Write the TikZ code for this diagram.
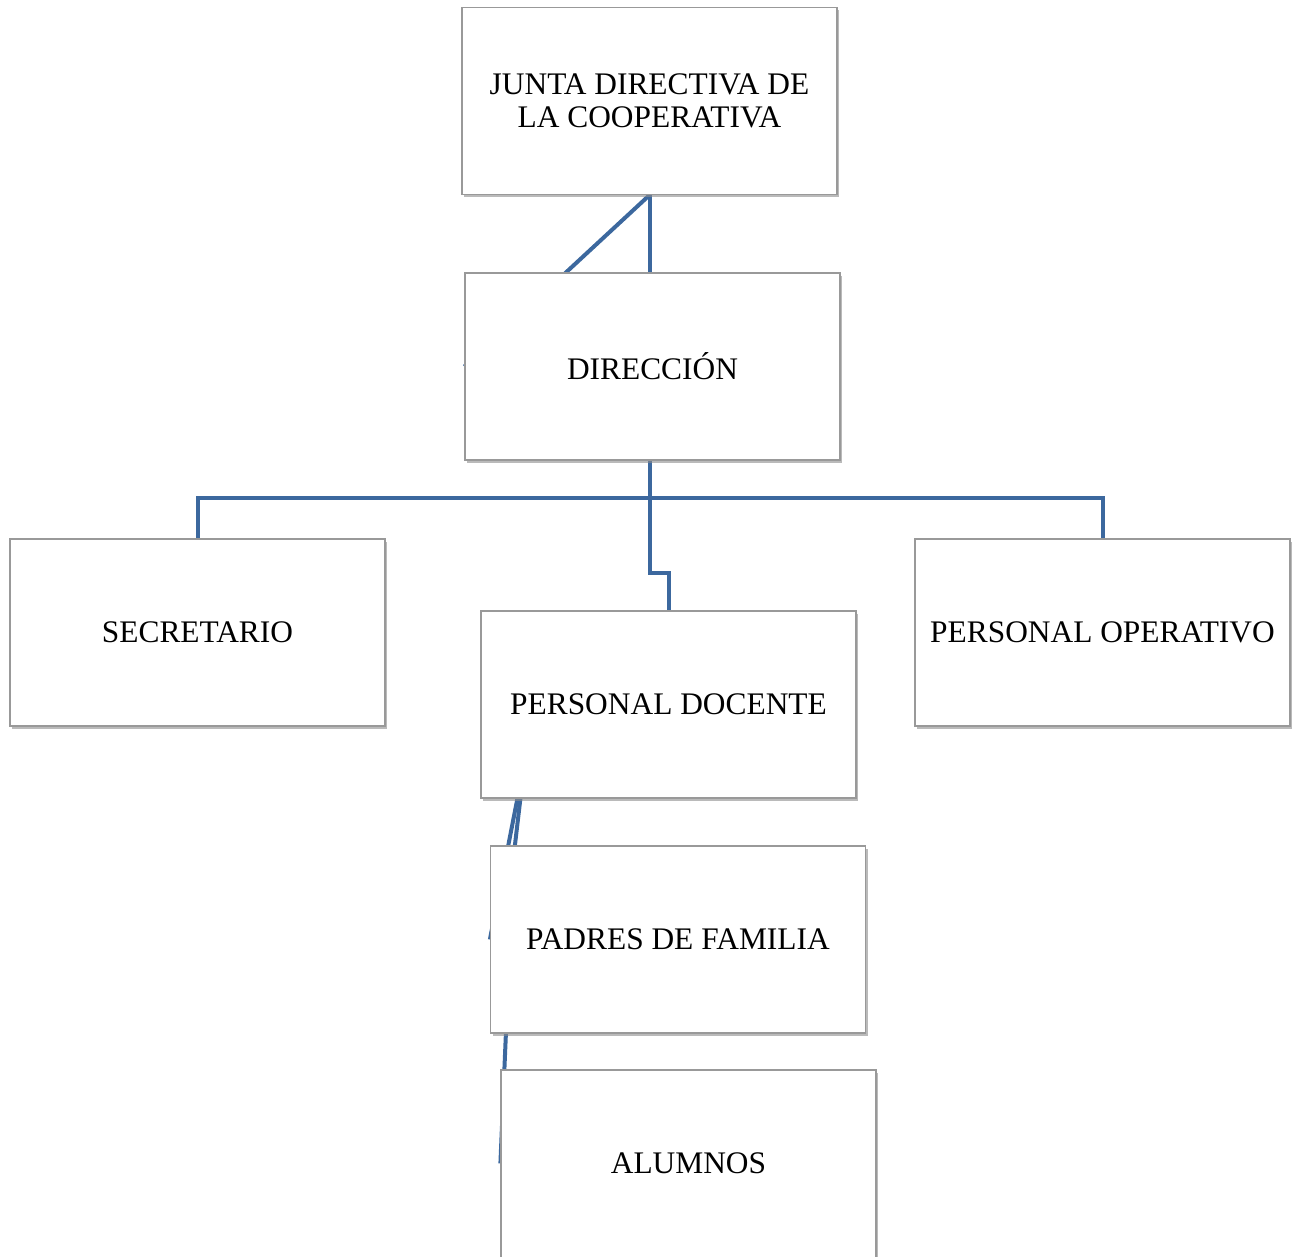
\documentclass[tikz,border=0pt]{standalone}
\usepackage{fontspec}
\setmainfont{Liberation Serif}
\usepackage{xcolor}
\usetikzlibrary{shadows,backgrounds}

\definecolor{enlaceazul}{RGB}{60,104,158}
\tikzset{
  cargo/.style={draw=black!40, line width=1.2pt, fill=white,
    minimum width=375pt, minimum height=187pt, inner sep=0pt,
    align=center, font=\fontsize{31.4}{33}\selectfont,
    drop shadow={shadow xshift=2pt, shadow yshift=-3pt, fill=black!45, opacity=0.6}},
  enlace/.style={draw=enlaceazul, line width=4pt}
}

\begin{document}
\begin{tikzpicture}[x=1pt, y=-1pt]
    \useasboundingbox (0,0) rectangle (1298,1257);

    \node[cargo] (junta) at (649.5,101) {JUNTA DIRECTIVA DE\\LA COOPERATIVA};
    \node[cargo] (direccion) at (652.5,366.5) {DIRECCIÓN};
    \node[cargo] (secretario) at (197.5,632.5) {SECRETARIO};
    \node[cargo] (docente) at (668.5,704.5) {PERSONAL DOCENTE};
    \node[cargo] (operativo) at (1102.5,632.5) {PERSONAL OPERATIVO};
    \node[cargo] (padres) at (678,939.5) {PADRES DE FAMILIA};
    \node[cargo, minimum height=201pt] (alumnos) at (688.5,1170.5)
      {\raisebox{7pt}[\height][\depth]{ALUMNOS}};

    \begin{scope}[on background layer]
      % junta -> direccion
      \draw[enlace] (junta.south) -- (junta.south |- direccion.north);
      \draw[enlace] (junta.south) -- (direccion.west);
      % direccion -> secretario, docente, operativo
      \draw[enlace] (junta.south |- direccion.south) -- ++(0,39) coordinate (bus);
      \draw[enlace] (secretario.north) -- ++(0,-40) -| (operativo.north);
      \draw[enlace] (bus) -- ++(0,73) -| (docente.north);
      % docente -> padres -> alumnos
      \coordinate (docA) at ([xshift=37pt]docente.south west);
      \coordinate (docB) at ([xshift=40pt]docente.south west);
      \coordinate (padB) at ([xshift=25pt]padres.north west);
      \coordinate (padC) at ([xshift=16pt]padres.south west);
      \draw[enlace] (docA) -- (padres.west);
      \draw[enlace] (docB) -- (padB);
      \draw[enlace] (padC) -- ([yshift=7pt]alumnos.west);
    \end{scope}

  \end{tikzpicture}
\end{document}
